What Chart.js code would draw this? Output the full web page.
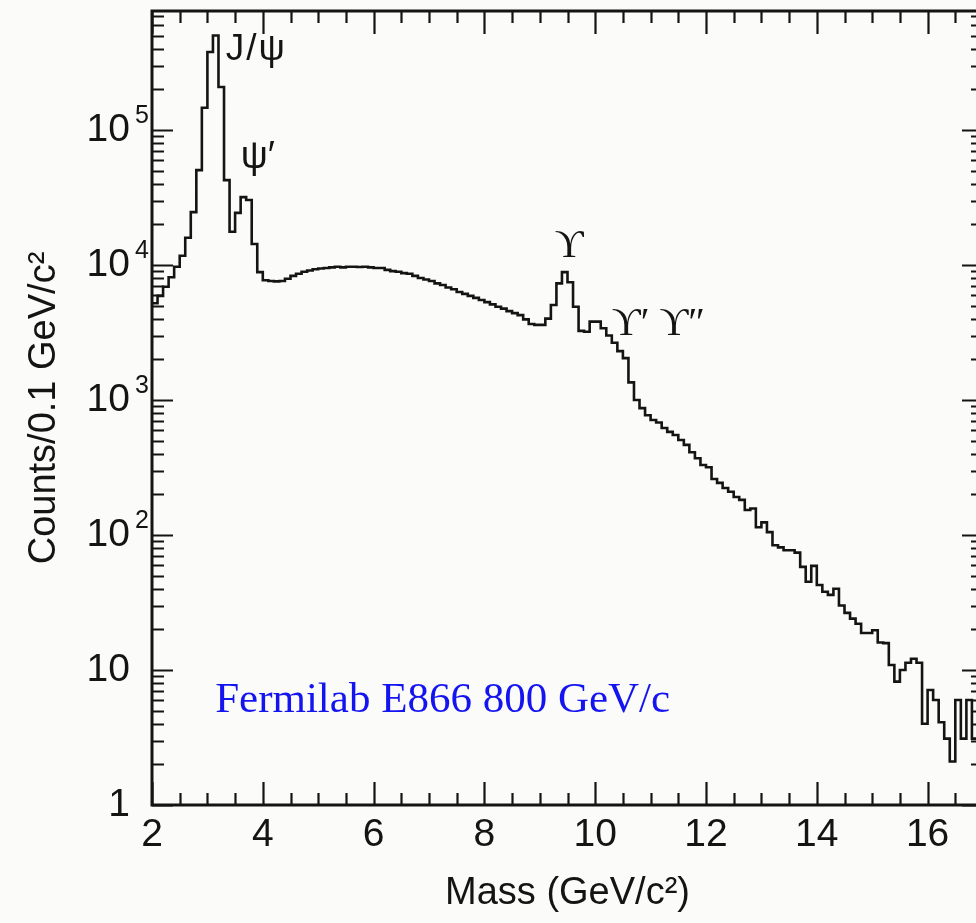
<!DOCTYPE html>
<html lang="en">
<head>
<meta charset="utf-8">
<title>E866 dimuon mass spectrum</title>
<script src="https://cdn.jsdelivr.net/npm/chart.js"></script>
<style>
    html, body { margin: 0; padding: 0; background: #fbfbfa; overflow: hidden; }
    #wrap { width: 976px; height: 923px; overflow: hidden; }
    canvas { display: block; background: #fbfbfa; }
</style>
</head>
<body>
<div id="wrap"><canvas id="massChart" width="990" height="923"></canvas></div>
<script>
// Histogram: counts per 0.1 GeV/c^2 bin, starting at 2.0 GeV/c^2
const massMin = 2.0;
const binWidth = 0.1;
const counts = [
    5200, 5900, 6900, 8100, 9700, 11700, 15900, 24600, 50400, 146000,      // 2.0 - 2.9
    378000, 500000, 208000, 42500, 17600, 24300, 31800, 30300, 14300, 8850, // 3.0 - 3.9
    7700, 7600, 7550, 7600, 7900, 8300, 8600, 8900, 9100, 9300,            // 4.0 - 4.9
    9400, 9500, 9600, 9700, 9600, 9700, 9700, 9650, 9700, 9600,            // 5.0 - 5.9
    9500, 9500, 9200, 9000, 8900, 8700, 8600, 8300, 8000, 7800,            // 6.0 - 6.9
    7600, 7300, 7100, 6800, 6600, 6300, 6100, 5900, 5700, 5500,            // 7.0 - 7.9
    5300, 5100, 4900, 4750, 4550, 4400, 4250, 3950, 3650, 3600,            // 8.0 - 8.9
    3600, 4000, 5050, 7300, 8850, 7450, 4900, 3250, 3200, 3800,            // 9.0 - 9.9
    3800, 3400, 3000, 2650, 2300, 2040, 1350, 1000, 870, 770,              // 10.0 - 10.9
    710, 680, 620, 580, 550, 505, 465, 410, 370, 330,                      // 11.0 - 11.9
    317, 260, 243, 223, 209, 191, 182, 153, 157, 114,                      // 12.0 - 12.9
    124, 105, 84, 81, 77, 77, 74, 58, 45, 59,                              // 13.0 - 13.9
    42.6, 38, 36, 40, 30, 26.5, 24, 22, 18.8, 18.8,                        // 14.0 - 14.9
    19.7, 16, 15.8, 10.9, 8.2, 10, 11.3, 12.1, 11.3, 4.0,                  // 15.0 - 15.9
    7.1, 6.0, 4.1, 3.1, 2.1, 6, 3.1, 6, 3.1, 6                             // 16.0 - 16.9
];

// Axis labels
const xTickValues = [2, 4, 6, 8, 10, 12, 14, 16];
const yTickValues = [1, 10, 100, 1000, 10000, 100000];
const yTickBase = ['1', '10', '10', '10', '10', '10'];
const yTickExponent = ['', '', '2', '3', '4', '5'];

// Peak names and the caption
const annotationTexts = ['J/ψ', 'ψ′', 'ϒ', 'ϒ′ ϒ″', 'Fermilab E866 800 GeV/c'];

const INK = '#141414';
const SANS = "'Liberation Sans', Arial, Helvetica, sans-serif";
const SERIF = "'Liberation Serif', 'DejaVu Serif', 'Times New Roman', serif";

// Anchors of the texts, in data units (mass, counts), baseline-left
const annotationStyle = [
    { mass: 3.33, count: 330000, font: '37px ' + SANS, color: INK, spacing: '2px' },
    { mass: 3.60, count: 52000, font: '38px ' + SANS, color: INK, spacing: '0px' },
    { mass: 9.27, count: 11400, font: '40px ' + SERIF, color: INK, spacing: '0px' },
    { mass: 10.30, count: 3030, font: '40px ' + SERIF, color: INK, spacing: '0px' },
    { mass: 3.14, count: 4.9, font: '43px ' + SERIF, color: '#1414f0', spacing: '0px' }
];

// Step outline: one point per left bin edge, plus the closing right edge
function buildOutline() {
    const pts = counts.map((c, i) => ({ x: +(massMin + i * binWidth).toFixed(2), y: c }));
    pts.push({ x: +(massMin + counts.length * binWidth).toFixed(2), y: counts[counts.length - 1] });
    return pts;
}

// Frame with inward ticks on the four sides
const frameTicks = {
    id: 'frameTicks',
    afterDatasetsDraw(chart) {
        const { ctx, chartArea: a, scales: { x, y } } = chart;
        const major = 23, minor = 12;
        ctx.save();
        ctx.strokeStyle = INK;
        ctx.lineWidth = 2.2;
        ctx.beginPath();
        for (let m = x.min; m <= x.max + 1e-6; m += 0.5) {
            const px = Math.round(x.getPixelForValue(m)) + 0.5;
            const len = Math.abs(m % 2) < 1e-6 ? major : minor;
            ctx.moveTo(px, a.bottom); ctx.lineTo(px, a.bottom - len);
            ctx.moveTo(px, a.top); ctx.lineTo(px, a.top + len);
        }
        for (let d = 1; d <= y.max; d *= 10) {
            for (let k = 1; k <= 9; k++) {
                const v = k * d;
                if (v > y.max) break;
                const py = Math.round(y.getPixelForValue(v)) + 0.5;
                const len = k === 1 ? 21 : minor;
                ctx.moveTo(a.left, py); ctx.lineTo(a.left + len, py);
                ctx.moveTo(a.right, py); ctx.lineTo(a.right - len, py);
            }
        }
        ctx.stroke();
        ctx.lineWidth = 3;
        ctx.strokeRect(a.left, a.top, a.right - a.left, a.bottom - a.top);
        ctx.restore();
    }
};

// Raised exponents after the "10" tick labels
const exponents = {
    id: 'exponents',
    afterDraw(chart) {
        const { ctx, scales: { y } } = chart;
        ctx.save();
        ctx.fillStyle = INK;
        ctx.font = '25px ' + SANS;
        ctx.textAlign = 'left';
        ctx.textBaseline = 'middle';
        yTickValues.forEach((v, i) => {
            if (!yTickExponent[i]) return;
            const py = y.getPixelForValue(v);
            ctx.fillText(yTickExponent[i], y.right - y.options.ticks.padding + 5, py - 14);
        });
        ctx.restore();
    }
};

// Peak names and caption
const peakText = {
    id: 'peakText',
    afterDraw(chart) {
        const { ctx, scales: { x, y } } = chart;
        ctx.save();
        ctx.textAlign = 'left';
        ctx.textBaseline = 'alphabetic';
        annotationTexts.forEach((t, i) => {
            const s = annotationStyle[i];
            ctx.font = s.font;
            ctx.fillStyle = s.color;
            if ('letterSpacing' in ctx) ctx.letterSpacing = s.spacing;
            ctx.fillText(t, x.getPixelForValue(s.mass), y.getPixelForValue(s.count));
        });
        ctx.restore();
    }
};

const ctx = document.getElementById('massChart');
new Chart(ctx, {
    type: 'line',
    data: {
        datasets: [{
            data: buildOutline(),
            stepped: 'before',
            borderColor: INK,
            borderWidth: 2.6,
            pointRadius: 0,
            fill: false
        }]
    },
    options: {
        responsive: false,
        animation: false,
        events: [],
        layout: { padding: { top: 11, right: 7, left: 0, bottom: 0 } },
        plugins: {
            legend: { display: false },
            tooltip: { enabled: false }
        },
        scales: {
            x: {
                type: 'linear',
                min: 2,
                max: 17,
                grid: { display: false, drawTicks: false },
                border: { display: false },
                afterBuildTicks: (s) => { s.ticks = xTickValues.map(v => ({ value: v })); },
                afterFit: (s) => {
                    s.height = 118;
                    s.paddingLeft = 0;
                    s.paddingRight = 0;
                },
                ticks: {
                    color: INK,
                    padding: 7,
                    maxRotation: 0,
                    autoSkip: false,
                    font: { family: SANS, size: 39 }
                },
                title: {
                    display: true,
                    text: 'Mass (GeV/c²)',
                    color: INK,
                    font: { family: SANS, size: 38 },
                    padding: { top: 0, bottom: 7 }
                }
            },
            y: {
                type: 'logarithmic',
                min: 1,
                max: 760000,
                grid: { display: false, drawTicks: false },
                border: { display: false },
                afterBuildTicks: (s) => { s.ticks = yTickValues.map(v => ({ value: v })); },
                afterFit: (s) => {
                    s.width = 152;
                    s.paddingTop = 0;
                    s.paddingBottom = 0;
                },
                ticks: {
                    color: INK,
                    padding: 22,
                    autoSkip: false,
                    font: { family: SANS, size: 39 },
                    callback: (v, i) => yTickBase[i]
                },
                title: {
                    display: true,
                    text: 'Counts/0.1 GeV/c²',
                    color: INK,
                    font: { family: SANS, size: 38 },
                    padding: { top: 22, bottom: 0 }
                }
            }
        }
    },
    plugins: [frameTicks, exponents, peakText]
});
</script>
</body>
</html>
